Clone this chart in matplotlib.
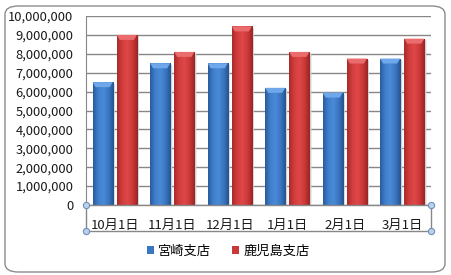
import numpy as np
import matplotlib
matplotlib.use("Agg")
import matplotlib.pyplot as plt
from matplotlib.colors import LinearSegmentedColormap
from matplotlib.patches import FancyBboxPatch, Polygon
from matplotlib.ticker import FuncFormatter

plt.rcParams['font.family'] = ['Noto Sans CJK JP', 'DejaVu Sans']

# データ
categories = ['10月1日', '11月1日', '12月1日', '1月1日', '2月1日', '3月1日']
miyazaki = [6500000, 7500000, 7500000, 6200000, 5950000, 7750000]
kagoshima = [9000000, 8100000, 9450000, 8100000, 7750000, 8800000]
series_names = ['宮崎支店', '鹿児島支店']

W, H = 451, 275
fig = plt.figure(figsize=(W / 100, H / 100), dpi=100)
fig.patch.set_facecolor('white')

# グラフエリアの枠 (角丸)
frame = FancyBboxPatch((5 / W, 3 / H), 440 / W, 266 / H,
                       boxstyle="round,pad=0,rounding_size=0.03",
                       transform=fig.transFigure, facecolor='white',
                       edgecolor='#8c8c8c', linewidth=1.0, zorder=-1)
fig.patches.append(frame)

ax = fig.add_axes([86 / W, 70 / H, 345 / W, 189 / H])
ax.set_facecolor('none')
ax.set_zorder(2)

x = np.arange(len(categories))
bw = 0.35
off = 0.21

blue_cmap = LinearSegmentedColormap.from_list('b', ['#2a5c9e', '#3f7fcc', '#4a8ad6', '#3a76c2', '#24548f'])
red_cmap = LinearSegmentedColormap.from_list('r', ['#a82b2b', '#d43d3d', '#de4848', '#cc3838', '#992525'])
cap_colors = ['#6fa8ea', '#ea6c6c']

bars_b = ax.bar(x - off, miyazaki, bw, color='#3a76c2', zorder=3, linewidth=0)
bars_r = ax.bar(x + off, kagoshima, bw, color='#cc3838', zorder=3, linewidth=0)

ax.set_xlim(-0.5, len(categories) - 0.5)
ax.set_ylim(0, 10000000)

grad = np.linspace(0, 1, 64).reshape(1, -1)
px_y = 10000000 / 189.0
px_x = len(categories) / 345.0
for bars, cmap, capc in [(bars_b, blue_cmap, cap_colors[0]), (bars_r, red_cmap, cap_colors[1])]:
    for p in bars:
        x0, w, h = p.get_x(), p.get_width(), p.get_height()
        # 影
        sh = Polygon([(x0 + w, 0), (x0 + w + 2 * px_x, 0), (x0 + w + 2 * px_x, h - 2 * px_y), (x0 + w, h)],
                     closed=True, facecolor='#cfcfcf', edgecolor='none', zorder=2.5)
        ax.add_patch(sh)
        im = ax.imshow(grad, cmap=cmap, aspect='auto', extent=(x0, x0 + w, 0, h), zorder=3.1)
        im.set_clip_path(p)
        cap = Polygon([(x0, h), (x0 + w, h), (x0 + w - 3 * px_x, h - 5 * px_y), (x0 + 3 * px_x, h - 5 * px_y)],
                      closed=True, facecolor=capc, edgecolor='none', zorder=3.2)
        ax.add_patch(cap)
ax.set_xlim(-0.5, len(categories) - 0.5)
ax.set_ylim(0, 10000000)

ax.set_yticks(np.arange(0, 10000001, 1000000))
ax.yaxis.set_major_formatter(FuncFormatter(lambda v, p: f'{int(v):,}'))
ax.grid(axis='y', color='#878787', linewidth=1.0, zorder=0)
ax.set_axisbelow(True)
for s in ['top', 'right', 'bottom']:
    ax.spines[s].set_visible(False)
ax.spines['left'].set_color('#878787')
ax.tick_params(axis='y', length=0, pad=9, labelsize=9.3, labelcolor='#1a1a1a')
ax.set_xticks(x)
ax.set_xticklabels(categories)
ax.tick_params(axis='x', length=0, pad=10, labelsize=9.5, labelcolor='#1a1a1a')

# 項目軸の枠
by = -26 / 189
ax.plot([0, 0, 1, 1], [0, by, by, 0], transform=ax.transAxes, color='#878787',
        linewidth=1.0, clip_on=False, zorder=1)
ax.plot([0, 1], [0, 0], transform=ax.transAxes, color='#878787', linewidth=1.0, clip_on=False, zorder=4)
for cx, cy in [(0, 0), (0, by), (1, 0), (1, by)]:
    ax.plot([cx], [cy], marker='o', markersize=4.5, markerfacecolor='#bcd0ea',
            markeredgecolor='#6e8fbd', markeredgewidth=0.8, transform=ax.transAxes, clip_on=False, zorder=5)

leg = fig.legend([bars_b, bars_r], series_names, loc='center', bbox_to_anchor=(228 / W, 1 - 251 / H),
                 ncol=2, frameon=False, fontsize=9.5, handlelength=0.55, handleheight=0.55,
                 handletextpad=0.3, columnspacing=1.6)

fig.savefig('out.png', dpi=100, facecolor=fig.get_facecolor())
